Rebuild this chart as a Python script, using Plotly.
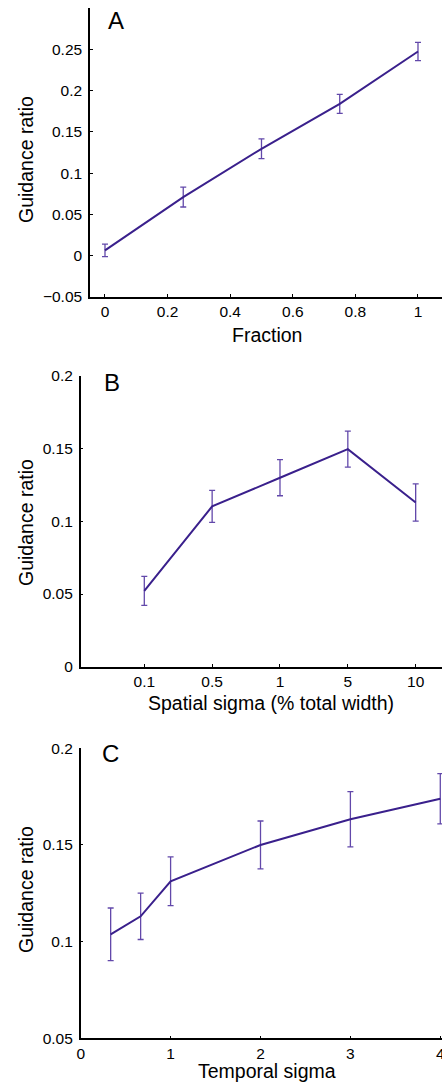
import plotly.graph_objects as go

# Panel A
frac_x = [0, 0.25, 0.5, 0.75, 1.0]
frac_y = [0.0065, 0.071, 0.1295, 0.184, 0.2473]
frac_err = [0.0075, 0.012, 0.012, 0.0115, 0.011]

# Panel B
spatial_labels = ["0.1", "0.5", "1", "5", "10"]
spatial_idx = [1, 2, 3, 4, 5]
spatial_y = [0.0522, 0.1103, 0.130, 0.1497, 0.113]
spatial_err = [0.010, 0.011, 0.0124, 0.0124, 0.0128]

# Panel C
temporal_x = [1/3, 2/3, 1, 2, 3, 4]
temporal_y = [0.1038, 0.1131, 0.1312, 0.150, 0.1633, 0.1739]
temporal_err = [0.0136, 0.012, 0.0126, 0.0124, 0.0143, 0.013]

W, H = 442, 1082
LINE = "rgb(58,32,140)"
ERR = "rgb(98,72,170)"
FONT = "Liberation Sans, Arial, Helvetica, sans-serif"
TICK = 15.5
TITLE = 19.5
LETTER = 24

fig = go.Figure()

def add(x, y, e, xa, ya):
    fig.add_trace(go.Scatter(
        x=x, y=y, mode="lines", xaxis=xa, yaxis=ya,
        line=dict(color=LINE, width=2),
        error_y=dict(type="data", array=e, visible=True, color=ERR,
                     thickness=1.3, width=3),
        showlegend=False, hoverinfo="skip", cliponaxis=False))

add(frac_x, frac_y, frac_err, "x", "y")
add(spatial_idx, spatial_y, spatial_err, "x2", "y2")
add(temporal_x, temporal_y, temporal_err, "x3", "y3")

def px_x(p):
    return p / W

def px_y(p):
    return 1 - p / H

common = dict(showline=True, linecolor="black", linewidth=1.5, mirror=False,
              ticks="inside", ticklen=3, tickcolor="black", tickwidth=1,
              showgrid=False, zeroline=False, automargin=False,
              ticklabeloverflow="allow",
              tickfont=dict(family=FONT, size=TICK, color="black"))

fig.update_layout(
    width=W, height=H,
    margin=dict(l=0, r=0, t=0, b=0),
    paper_bgcolor="white", plot_bgcolor="white",
    font=dict(family=FONT, color="black"),
    xaxis=dict(domain=[px_x(90), 1], range=[-0.0479, 1.0767], anchor="y",
               tickvals=[0, 0.2, 0.4, 0.6, 0.8, 1],
               ticktext=["0", "0.2", "0.4", "0.6", "0.8", "1"],
               ticklabelstandoff=0, **common),
    yaxis=dict(domain=[px_y(297), px_y(8)], range=[-0.05, 0.30], anchor="x",
               tickvals=[-0.05, 0, 0.05, 0.1, 0.15, 0.2, 0.25],
               ticktext=["\u22120.05", "0", "0.05", "0.1", "0.15", "0.2", "0.25"],
               ticklabelstandoff=3, **common),
    xaxis2=dict(domain=[px_x(80.7), 1], range=[0.0626, 5.388], anchor="y2",
                tickvals=spatial_idx, ticktext=spatial_labels,
                ticklabelstandoff=0, **common),
    yaxis2=dict(domain=[px_y(666.7), px_y(376)], range=[0, 0.2], anchor="x2",
                tickvals=[0, 0.05, 0.1, 0.15, 0.2],
                ticktext=["0", "0.05", "0.1", "0.15", "0.2"],
                ticklabelstandoff=3, **common),
    xaxis3=dict(domain=[px_x(80.7), 1], range=[0, 4.019], anchor="y3",
                tickvals=[0, 1, 2, 3, 4], ticktext=["0", "1", "2", "3", "4"],
                ticklabelstandoff=0, **common),
    yaxis3=dict(domain=[px_y(1038.3), px_y(748.3)], range=[0.05, 0.2], anchor="x3",
                tickvals=[0.05, 0.1, 0.15, 0.2],
                ticktext=["0.05", "0.1", "0.15", "0.2"],
                ticklabelstandoff=3, **common),
)

def ann(text, x, y, size, angle=0):
    fig.add_annotation(text=text, x=px_x(x), y=px_y(y), xref="paper", yref="paper",
                       showarrow=False, textangle=angle, xanchor="center", yanchor="middle",
                       font=dict(family=FONT, size=size, color="black"))

# panel letters
ann("A", 116, 20, LETTER)
ann("B", 112, 382, LETTER)
ann("C", 110, 753, LETTER)
# axis titles
ann("Fraction", 267, 335, TITLE)
ann("Spatial sigma (% total width)", 271, 703, TITLE)
ann("Temporal sigma", 267, 1071, TITLE)
ann("Guidance ratio", 26, 160, TITLE, -90)
ann("Guidance ratio", 26, 523, TITLE, -90)
ann("Guidance ratio", 26, 890, TITLE, -90)

fig.write_html("out.html", config={"displayModeBar": False},
               post_script="document.body.style.margin='0';document.body.style.overflow='hidden';")
